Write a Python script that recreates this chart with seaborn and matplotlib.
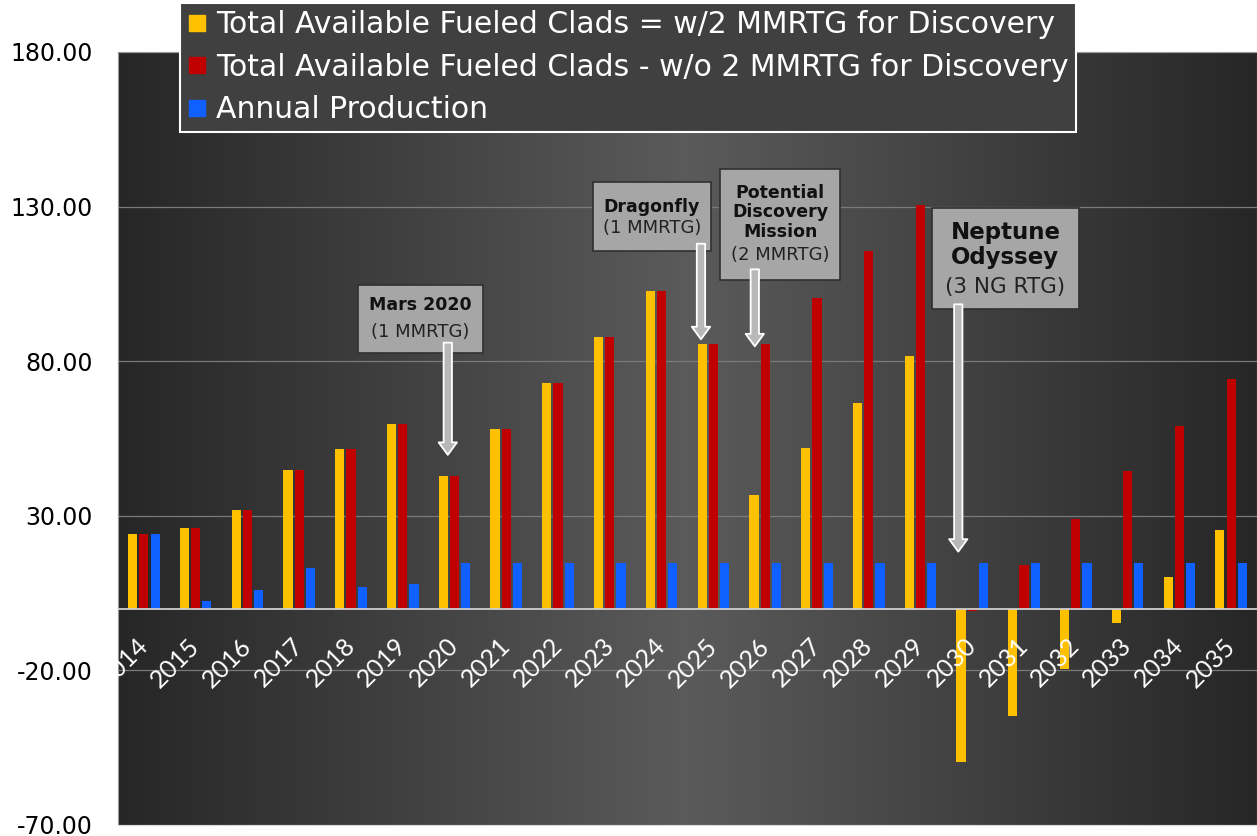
import numpy as np
import pandas as pd
import matplotlib
matplotlib.use("Agg")
import matplotlib.pyplot as plt
import seaborn as sns
from matplotlib.patches import Rectangle
from matplotlib.lines import Line2D

# --- data ---
years = [str(y) for y in range(2014, 2036)]
with_discovery = [24.0, 26.0, 32.0, 44.8, 51.6, 59.7, 42.8, 58.0, 72.9, 87.7, 102.6,
                  85.7, 36.8, 51.8, 66.5, 81.7, -49.7, -34.7, -19.7, -4.7, 10.2, 25.3]
without_discovery = [24.0, 26.0, 32.0, 44.8, 51.6, 59.7, 42.8, 58.0, 72.9, 87.7, 102.6,
                     85.7, 85.7, 100.5, 115.5, 130.6, -0.9, 14.1, 28.9, 44.5, 59.0, 74.2]
annual_production = [24.0, 2.3, 6.0, 13.0, 7.0, 8.1] + [14.8] * 16

series_names = [
    "Total Available Fueled Clads = w/2 MMRTG for Discovery",
    "Total Available Fueled Clads - w/o 2 MMRTG for Discovery",
    "Annual Production",
]
colors = ["#FFC000", "#C00000", "#1060FF"]
yticks = [-70, -20, 30, 80, 130, 180]

# mission call-outs:
# (bold title, sub text, box [x0, x1, y0, y1], title y, sub y, arrow x, arrow start, arrow tip, title size, sub size)
callouts = [
    ("Mars 2020", "(1 MMRTG)", (4.14, 6.55, 82.6, 104.8), 98.1, 89.4, 5.87, 86.0, 49.7, 12.5, 13),
    ("Dragonfly", "(1 MMRTG)", (8.68, 10.95, 115.5, 138.0), 130.0, 123.2, 10.76, 118.0, 87.1, 12.5, 13),
    ("Potential\nDiscovery\nMission", "(2 MMRTG)", (11.13, 13.45, 106.1, 142.0), 128.1, 114.5,
     11.80, 109.7, 84.8, 12.5, 13),
    ("Neptune\nOdyssey", "(3 NG RTG)", (15.22, 18.06, 96.8, 129.7), 117.6, 103.9, 15.73, 98.4, 18.4, 16.5, 15.5),
]

df = pd.DataFrame({
    "year": years * 3,
    "series": np.repeat(series_names, len(years)),
    "value": with_discovery + without_discovery + annual_production,
})

sns.set_theme(style="white")
plt.rcParams["font.family"] = ["DejaVu Sans"]

fig = plt.figure(figsize=(12.57, 8.36), dpi=100)
ax = fig.add_axes([118 / 1257, 11 / 836, 1 - 118 / 1257, (825 - 52) / 836])

# dark horizontal gradient behind the bars (lighter in the middle)
t = np.linspace(0, 1, 400)
shade = 0.15 + 0.205 * (1 - np.abs(2 * t - 1))
grad = np.stack([shade, shade, shade], axis=-1)[None, :, :].repeat(2, axis=0)
ax.imshow(grad, extent=[-0.5, len(years) - 0.5, -70, 180],
          aspect="auto", zorder=0, interpolation="bilinear")

sns.barplot(data=df, x="year", y="value", hue="series", palette=colors,
            width=0.65, gap=0.18, linewidth=0, saturation=1, ax=ax, zorder=3,
            legend=False)

ax.set_xlim(-0.5, len(years) - 0.5)
ax.set_ylim(-70, 180)
ax.set_yticks(yticks)
ax.set_yticklabels([f"{v:.2f}" for v in yticks], fontsize=17, color="black")
ax.tick_params(axis="y", length=0, pad=18)
ax.set_xticks([])
ax.set_xlabel("")
ax.set_ylabel("")
for v in yticks:
    ax.axhline(v, color="#7a7a7a", lw=0.9, zorder=1)
ax.axhline(0, color="#cfcfcf", lw=1.3, zorder=4)
for s in ax.spines.values():
    s.set_color("#9a9a9a")
    s.set_linewidth(0.8)
ax.spines["bottom"].set_color("#d9d9d9")

# year labels, rotated, sitting just below the zero line
for i, yr in enumerate(years):
    ax.annotate(yr, xy=(i, 0), xytext=(4, -28), textcoords="offset points",
                rotation=45, ha="right", va="baseline", rotation_mode="anchor",
                color="white", fontsize=18, family=["Lato", "DejaVu Sans"],
                annotation_clip=False, clip_on=True, zorder=5)

# call-out boxes and arrows
for title, sub, (x0, x1, y0, y1), ty, sy, ax_x, a_start, a_tip, fs, sfs in callouts:
    ax.add_patch(Rectangle((x0, y0), x1 - x0, y1 - y0, facecolor="#a6a6a6",
                           edgecolor="#303030", lw=1.2, zorder=6))
    xc = (x0 + x1) / 2
    ax.text(xc, ty, title, ha="center", va="center", fontsize=fs, fontweight="bold",
            color="#111111", linespacing=1.1, zorder=7)
    ax.text(xc, sy, sub, ha="center", va="center", fontsize=sfs,
            color="#222222", zorder=7)
    ax.annotate("", xy=(ax_x, a_tip), xytext=(ax_x, a_start),
                arrowprops=dict(arrowstyle="simple,head_length=0.75,head_width=1.1,tail_width=0.5",
                                fc="#b8b8b8", ec="white", lw=1.3, shrinkA=0, shrinkB=0,
                                mutation_scale=12),
                zorder=8)

handles = [Line2D([0], [0], marker="s", linestyle="", markersize=12,
                  markerfacecolor=c, markeredgecolor=c) for c in colors]
leg = fig.legend(handles, series_names, loc="upper left", bbox_to_anchor=(180 / 1257, 1 - 3 / 836),
                 bbox_transform=fig.transFigure, borderaxespad=0, fontsize=21.5,
                 frameon=True, fancybox=False, framealpha=1, facecolor="#404040",
                 edgecolor="white", labelcolor="white", handlelength=0.65,
                 handletextpad=0.3, borderpad=0.25, labelspacing=0.45)
leg.get_frame().set_linewidth(1.5)
leg.set_zorder(10)

fig.savefig("out.png", dpi=100, facecolor="white")
